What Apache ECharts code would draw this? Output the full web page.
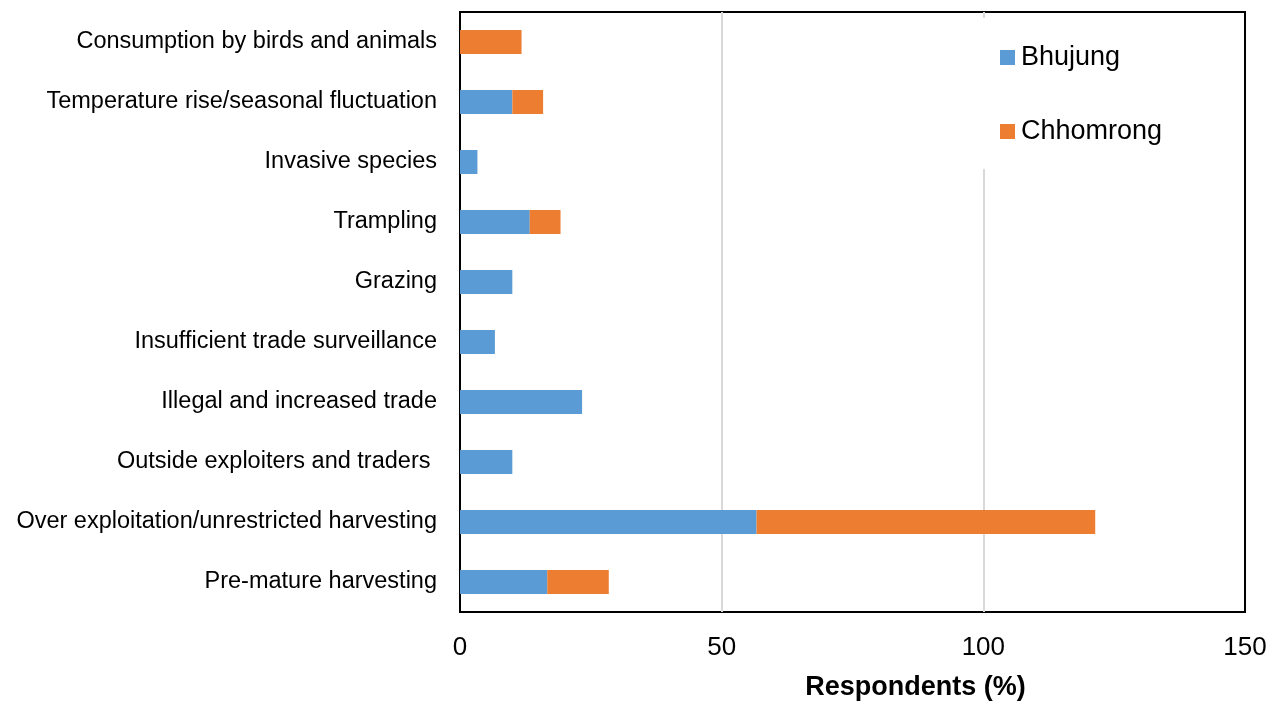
<!DOCTYPE html>
<html>
<head>
<meta charset="utf-8">
<script src="https://cdn.jsdelivr.net/npm/echarts@6/dist/echarts.min.js"></script>
<style>
  html, body { margin: 0; padding: 0; background: #fff; }
  #chart { width: 1279px; height: 702px; }
</style>
</head>
<body>
<div id="chart"></div>
<script>
// categories, top to bottom
var threats = [
    'Consumption by birds and animals',
    'Temperature rise/seasonal fluctuation',
    'Invasive species',
    'Trampling',
    'Grazing',
    'Insufficient trade surveillance',
    'Illegal and increased trade',
    'Outside exploiters and traders ',
    'Over exploitation/unrestricted harvesting',
    'Pre-mature harvesting'
];
var bhujung   = [0, 10, 3.33, 13.33, 10, 6.67, 23.33, 10, 56.67, 16.67];
var chhomrong = [11.76, 5.88, 0, 5.88, 0, 0, 0, 0, 64.71, 11.76];
var xTicks = [0, 50, 100, 150];

var chart = echarts.init(document.getElementById('chart'));

var font = 'Liberation Sans, Arial, sans-serif';

var option = {
    animation: false,
    textStyle: { fontFamily: font },
    grid: {
        left: 460, right: 34, top: 12, bottom: 90,
        outerBoundsMode: 'none',
        containLabel: false,
        show: true, borderColor: '#000', borderWidth: 2,
        backgroundColor: 'transparent'
    },
    legend: {
        orient: 'vertical',
        left: 975, top: 18,
        itemGap: 47,
        itemWidth: 15, itemHeight: 15,
        icon: 'rect',
        backgroundColor: '#fff',
        padding: [26, 40, 24, 25],
        textStyle: { fontSize: 27, color: '#000', fontFamily: font, padding: [0, 0, 0, 1] },
        data: ['Bhujung', 'Chhomrong']
    },
    xAxis: {
        type: 'value',
        min: xTicks[0], max: xTicks[xTicks.length - 1], interval: 50,
        axisLine: { show: false },
        axisTick: { show: false },
        splitLine: {
            show: true, showMinLine: false, showMaxLine: false,
            lineStyle: { color: '#d9d9d9', width: 2 }
        },
        axisLabel: { fontSize: 26, color: '#000', margin: 23, fontFamily: font },
        name: 'Respondents (%)',
        nameLocation: 'middle',
        nameGap: 62,
        nameTextStyle: { fontSize: 27, fontWeight: 'bold', color: '#000', padding: [0, 0, 0, 126], fontFamily: font }
    },
    yAxis: {
        type: 'category',
        inverse: true,
        data: threats,
        axisLine: { show: false },
        axisTick: { show: false },
        axisLabel: { fontSize: 23.5, color: '#000', margin: 23, fontFamily: font }
    },
    series: [
        {
            name: 'Bhujung',
            type: 'bar',
            stack: 'total',
            data: bhujung,
            barWidth: 24,
            itemStyle: { color: '#5B9BD5' }
        },
        {
            name: 'Chhomrong',
            type: 'bar',
            stack: 'total',
            data: chhomrong,
            barWidth: 24,
            itemStyle: { color: '#ED7D31' }
        }
    ]
};

chart.setOption(option);
</script>
</body>
</html>
